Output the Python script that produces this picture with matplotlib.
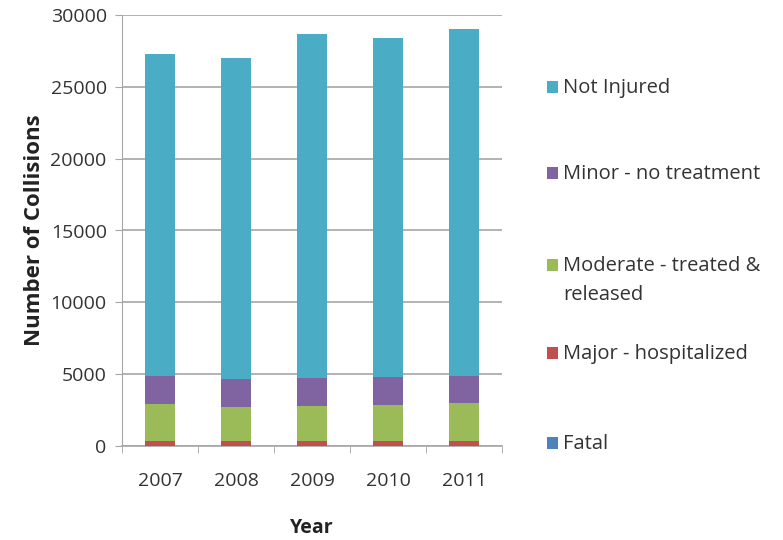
import matplotlib.pyplot as plt
import numpy as np
from matplotlib.patches import Rectangle

plt.rcParams['font.family'] = ['Open Sans', 'DejaVu Sans']

years = ['2007', '2008', '2009', '2010', '2011']
fatal = [30, 30, 30, 30, 30]
major = [350, 300, 330, 350, 340]
moderate = [2540, 2385, 2440, 2440, 2610]
minor = [1950, 1945, 1950, 1950, 1900]
not_injured = [22415, 22340, 23930, 23630, 24150]

series = [
    ('Fatal', fatal, '#4F81BD'),
    ('Major - hospitalized', major, '#C0504D'),
    ('Moderate - treated &\nreleased', moderate, '#9BBB59'),
    ('Minor - no treatment', minor, '#8064A2'),
    ('Not Injured', not_injured, '#4BACC6'),
]
# legend row positions (pixels from top)
legend_y = [443, 353, 265, 173, 87]

W, H = 783, 540
fig = plt.figure(figsize=(W / 100, H / 100), dpi=100)
ax = fig.add_axes([122 / W, 1 - 446 / H, 380 / W, 431 / H])

x = np.arange(len(years))
bottom = np.zeros(len(years))
for (name, vals, col), ly in zip(series, legend_y):
    ax.bar(x, vals, 0.4, bottom=bottom, color=col, zorder=3)
    bottom += np.array(vals)
    # legend entry
    fig.add_artist(Rectangle((547 / W, 1 - (ly + 6) / H), 11 / W, 12 / H,
                             transform=fig.transFigure, facecolor=col, edgecolor='none'))
    fig.text(563 / W, 1 - (ly - 9) / H, name, fontsize=14.5, color='#333333',
             va='top', ha='left', linespacing=1.6)

ax.set_ylim(0, 30000)
ax.set_xlim(-0.5, 4.5)
ax.set_yticks(range(0, 30001, 5000))
ax.yaxis.grid(True, color='#A6A6A6', linewidth=1.2, zorder=0)
ax.set_xticks(x)
ax.set_xticklabels(years)
ax.set_xticks(np.arange(-0.5, 5, 1), minor=True)
ax.tick_params(axis='x', which='major', length=0, pad=19, labelsize=14)
ax.tick_params(axis='x', which='minor', length=5, color='#A6A6A6')
ax.tick_params(axis='y', length=5, color='#A6A6A6', pad=6, labelsize=14)
ax.tick_params(labelcolor='#333333')

for s in ['top', 'right']:
    ax.spines[s].set_visible(False)
ax.spines['left'].set_color('#A6A6A6')
ax.spines['bottom'].set_color('#A6A6A6')
ax.spines['bottom'].set_linewidth(1.2)

ax.set_xlabel('Year', fontsize=14, fontweight='bold', color='#222222', labelpad=20)
ax.set_ylabel('Number of Collisions', fontsize=16, fontweight='bold', color='#222222', labelpad=4)

fig.savefig('out.png', dpi=100)
